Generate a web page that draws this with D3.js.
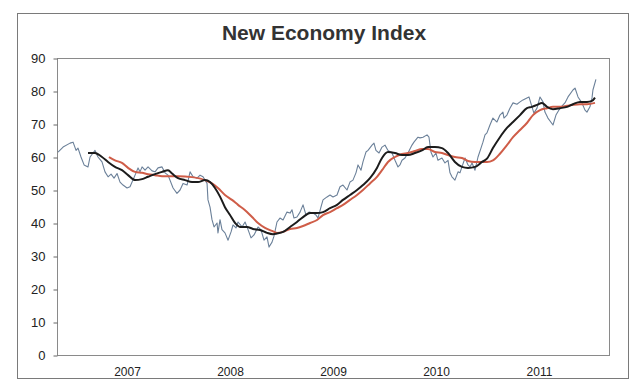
<!DOCTYPE html>
<html>
<head>
<meta charset="utf-8">
<script src="https://cdn.jsdelivr.net/npm/d3@7"></script>
<style>
  body { margin: 0; background: #fff; }
  svg { display: block; font-family: "Liberation Sans", Arial, sans-serif; }
</style>
</head>
<body>
<div id="chart"></div>
<script>
// decimal-year time stamps and values
const indexT = [2006.830, 2006.879, 2006.947, 2006.976, 2007.005, 2007.024, 2007.053, 2007.083, 2007.121, 2007.141,
  2007.170, 2007.189, 2007.218, 2007.257, 2007.286, 2007.316, 2007.345, 2007.374, 2007.403, 2007.432,
  2007.461, 2007.500, 2007.529, 2007.549, 2007.578, 2007.607, 2007.626, 2007.646, 2007.675, 2007.704,
  2007.743, 2007.772, 2007.801, 2007.840, 2007.869, 2007.898, 2007.947, 2007.985, 2008.015, 2008.044,
  2008.083, 2008.112, 2008.141, 2008.180, 2008.209, 2008.238, 2008.277, 2008.286, 2008.306, 2008.325,
  2008.345, 2008.374, 2008.383, 2008.403, 2008.422, 2008.451, 2008.481, 2008.510, 2008.529, 2008.558,
  2008.578, 2008.617, 2008.646, 2008.675, 2008.704, 2008.733, 2008.772, 2008.801, 2008.830, 2008.859,
  2008.879, 2008.908, 2008.927, 2008.956, 2008.985, 2009.015, 2009.053, 2009.083, 2009.102, 2009.121,
  2009.150, 2009.180, 2009.209, 2009.238, 2009.267, 2009.306, 2009.335, 2009.354, 2009.383, 2009.403,
  2009.442, 2009.471, 2009.500, 2009.539, 2009.568, 2009.597, 2009.636, 2009.665, 2009.694, 2009.723,
  2009.743, 2009.772, 2009.791, 2009.820, 2009.840, 2009.879, 2009.898, 2009.917, 2009.947, 2009.976,
  2010.005, 2010.034, 2010.073, 2010.102, 2010.131, 2010.150, 2010.170, 2010.199, 2010.228, 2010.267,
  2010.286, 2010.325, 2010.345, 2010.374, 2010.413, 2010.432, 2010.451, 2010.471, 2010.500, 2010.519,
  2010.558, 2010.587, 2010.617, 2010.636, 2010.655, 2010.684, 2010.714, 2010.733, 2010.752, 2010.782,
  2010.811, 2010.830, 2010.850, 2010.879, 2010.908, 2010.937, 2010.956, 2010.976, 2010.995, 2011.024,
  2011.053, 2011.092, 2011.121, 2011.150, 2011.160, 2011.189, 2011.218, 2011.248, 2011.286, 2011.316,
  2011.345, 2011.383, 2011.403, 2011.432, 2011.451, 2011.481, 2011.510, 2011.539, 2011.558, 2011.587,
  2011.636, 2011.665, 2011.704, 2011.752, 2011.782, 2011.830, 2011.850, 2011.879, 2011.917, 2011.947,
  2011.966, 2011.995, 2012.015, 2012.024, 2012.053];
const indexV = [61.5, 63, 64.2, 64.5, 62, 62.7, 60, 57.6, 57, 60,
  61.2, 62, 60, 58.5, 55.5, 54, 54.8, 53.6, 55, 52.4,
  51.5, 50.6, 51, 52.4, 54.5, 56.7, 55.5, 57, 56, 57,
  55.8, 55.5, 56.7, 57, 55.2, 54.5, 50.6, 49, 50, 52,
  51.5, 55.5, 54, 53.6, 54.5, 54, 52, 47, 44.8, 41,
  38.8, 40, 37, 41, 38, 37, 34.8, 37.3, 39.4, 38.5,
  40.3, 38.8, 40.3, 38, 35.5, 36.4, 38.8, 37.9, 34.8, 35.8,
  32.7, 34.2, 36, 40.3, 41.5, 40.9, 43.3, 43, 44, 41.5,
  41.8, 43.3, 45.5, 42.4, 43.3, 43, 42.4, 41.5, 44.8, 47,
  47.9, 48.5, 47.9, 48.5, 51, 51.5, 50, 52.4, 53, 55.2,
  57.6, 56, 58.5, 61.5, 62, 63.6, 64.2, 62, 61.2, 63,
  63.6, 62, 61.2, 59, 57, 57.6, 59, 59.7, 61.2, 63.6,
  64.5, 66, 65.8, 66, 66.7, 66, 61.5, 60, 61.2, 59,
  59.7, 58.2, 59, 55.2, 54, 53, 55.5, 55.2, 57, 59.7,
  57.6, 57, 58.2, 56, 60, 62.7, 64.5, 66.7, 67.3, 69.7,
  71.8, 70.6, 72.7, 73.6, 71.8, 72.7, 74.8, 76.4, 76, 76.7,
  77.3, 77.9, 78.2, 75.2, 73.3, 74.8, 78.2, 76.7, 73.6, 71.8,
  69.7, 72.7, 74.8, 76.4, 78.2, 80.3, 80.9, 78.2, 76.4, 74.2,
  73.6, 75.2, 77.9, 80.3, 83.5];

const shortT = [2007.121, 2007.189, 2007.257, 2007.316, 2007.383, 2007.451, 2007.510, 2007.578, 2007.646, 2007.704,
  2007.772, 2007.840, 2007.898, 2007.937, 2007.995, 2008.063, 2008.131, 2008.189, 2008.257, 2008.306,
  2008.354, 2008.403, 2008.451, 2008.500, 2008.549, 2008.597, 2008.665, 2008.723, 2008.791, 2008.859,
  2008.917, 2008.956, 2009.015, 2009.083, 2009.150, 2009.209, 2009.277, 2009.345, 2009.403, 2009.471,
  2009.539, 2009.597, 2009.665, 2009.733, 2009.791, 2009.859, 2009.927, 2009.976, 2010.034, 2010.102,
  2010.170, 2010.228, 2010.296, 2010.364, 2010.422, 2010.490, 2010.558, 2010.617, 2010.684, 2010.752,
  2010.811, 2010.879, 2010.947, 2010.995, 2011.053, 2011.121, 2011.189, 2011.248, 2011.316, 2011.383,
  2011.432, 2011.481, 2011.529, 2011.578, 2011.636, 2011.704, 2011.772, 2011.830, 2011.898, 2011.966,
  2012.015, 2012.044];
const shortV = [61.2, 61.2, 60, 58.5, 57, 56, 54.5, 53, 53.3, 54,
  54.8, 55.5, 56, 55, 53.6, 53, 52.4, 52.4, 53, 52.4,
  50.6, 48, 44.8, 42.4, 40, 38.8, 38.8, 38.2, 37.9, 37,
  36.6, 36.8, 37.3, 38.8, 40.3, 41.8, 43, 43, 43.3, 44.5,
  45.5, 47, 48.5, 50, 51.5, 53.6, 56.7, 59.7, 61.5, 61.2,
  60.6, 60.6, 61.2, 62, 63, 63, 62.7, 61.2, 58.5, 57,
  56.7, 57, 58.5, 59.5, 62.7, 66, 68.8, 70.6, 72.7, 74.8,
  75.2, 75.8, 76.4, 75.2, 74.5, 74.8, 75.2, 76, 76.7, 76.7,
  77, 78];

const longT = [2007.325, 2007.383, 2007.451, 2007.510, 2007.578, 2007.646, 2007.704, 2007.772, 2007.840, 2007.898,
  2007.995, 2008.131, 2008.257, 2008.325, 2008.383, 2008.451, 2008.519, 2008.578, 2008.646, 2008.714,
  2008.772, 2008.840, 2008.908, 2008.956, 2009.015, 2009.083, 2009.150, 2009.209, 2009.277, 2009.345,
  2009.403, 2009.471, 2009.539, 2009.597, 2009.665, 2009.733, 2009.791, 2009.859, 2009.927, 2009.976,
  2010.034, 2010.102, 2010.170, 2010.228, 2010.296, 2010.364, 2010.422, 2010.490, 2010.558, 2010.617,
  2010.684, 2010.752, 2010.811, 2010.879, 2010.947, 2010.995, 2011.053, 2011.121, 2011.189, 2011.248,
  2011.316, 2011.383, 2011.442, 2011.510, 2011.578, 2011.636, 2011.704, 2011.772, 2011.830, 2011.898,
  2011.966, 2012.044];
const longV = [60, 59, 58.2, 56.7, 55.5, 55.2, 54.8, 54.5, 54.2, 54.2,
  54.2, 53.9, 53, 52, 50.6, 48.5, 47, 45.5, 43.9, 41.8,
  40, 38.5, 37.6, 37, 37.3, 38.2, 38.5, 39.1, 40, 40.9,
  42.4, 43.3, 44.5, 45.5, 47, 48.5, 50, 52, 54, 56,
  58.5, 60, 60.9, 61.2, 61.8, 62.4, 62.4, 61.5, 61.2, 60.6,
  60, 59.7, 58.8, 58.5, 58.5, 58.5, 59, 61, 63.6, 66,
  68.2, 70.3, 72.7, 74.2, 74.8, 75.2, 75.2, 75.5, 75.8, 76,
  76, 76.4];

const years = [2007, 2008, 2009, 2010, 2011];
const yTicks = [0, 10, 20, 30, 40, 50, 60, 70, 80, 90];

const width = 640;
const height = 388;
const plot = { left: 57, right: 609, top: 58, bottom: 355 };

const svg = d3
  .select("#chart")
  .append("svg")
  .attr("width", width)
  .attr("height", height);

// outer chart frame
svg
  .append("rect")
  .attr("x", 17.5)
  .attr("y", 13.5)
  .attr("width", 611)
  .attr("height", 365)
  .attr("fill", "#fff")
  .attr("stroke", "#7a7a7a")
  .attr("stroke-width", 1);

svg
  .append("text")
  .attr("x", 324)
  .attr("y", 40)
  .attr("text-anchor", "middle")
  .attr("font-size", 21)
  .attr("font-weight", "bold")
  .attr("fill", "#333")
  .text("New Economy Index");

const x = d3.scaleLinear().domain([2006.82, 2012.18]).range([plot.left, plot.right]);
const y = d3.scaleLinear().domain([0, 90]).range([plot.bottom, plot.top]);

svg
  .append("rect")
  .attr("x", plot.left + 0.5)
  .attr("y", plot.top + 0.5)
  .attr("width", plot.right - plot.left)
  .attr("height", plot.bottom - plot.top)
  .attr("fill", "none")
  .attr("stroke", "#8a8a8a");

const yAxis = svg
  .append("g")
  .attr("transform", `translate(${plot.left + 0.5},0.5)`)
  .call(d3.axisLeft(y).tickValues(yTicks).tickSize(4).tickPadding(8));
yAxis.select(".domain").remove();
yAxis.selectAll("line").attr("stroke", "#666");
yAxis
  .selectAll("text")
  .attr("font-size", 13)
  .attr("font-family", "Liberation Sans, Arial, sans-serif")
  .attr("fill", "#222");

// year labels sit in the middle of each year
const xAxis = svg
  .append("g")
  .attr("transform", `translate(0,${plot.bottom})`)
  .call(
    d3
      .axisBottom(x)
      .tickValues(years.map((d) => d + 0.5))
      .tickFormat((d) => String(Math.floor(d)))
      .tickSize(0)
      .tickPadding(12)
  );
xAxis.select(".domain").remove();
xAxis
  .selectAll("text")
  .attr("font-size", 12)
  .attr("font-family", "Liberation Sans, Arial, sans-serif")
  .attr("fill", "#222");

const toPoints = (ts, vs) => ts.map((t, i) => ({ t, v: vs[i] }));

const line = d3
  .line()
  .x((d) => x(d.t))
  .y((d) => y(d.v));
const smooth = d3
  .line()
  .curve(d3.curveMonotoneX)
  .x((d) => x(d.t))
  .y((d) => y(d.v));

svg
  .append("path")
  .attr("d", line(toPoints(indexT, indexV)))
  .attr("fill", "none")
  .attr("stroke", "#6b8099")
  .attr("stroke-width", 1.1)
  .attr("stroke-linejoin", "round");

svg
  .append("path")
  .attr("d", smooth(toPoints(longT, longV)))
  .attr("fill", "none")
  .attr("stroke", "#cf5d48")
  .attr("stroke-width", 2);

svg
  .append("path")
  .attr("d", smooth(toPoints(shortT, shortV)))
  .attr("fill", "none")
  .attr("stroke", "#1c1c1c")
  .attr("stroke-width", 2);
</script>
</body>
</html>
